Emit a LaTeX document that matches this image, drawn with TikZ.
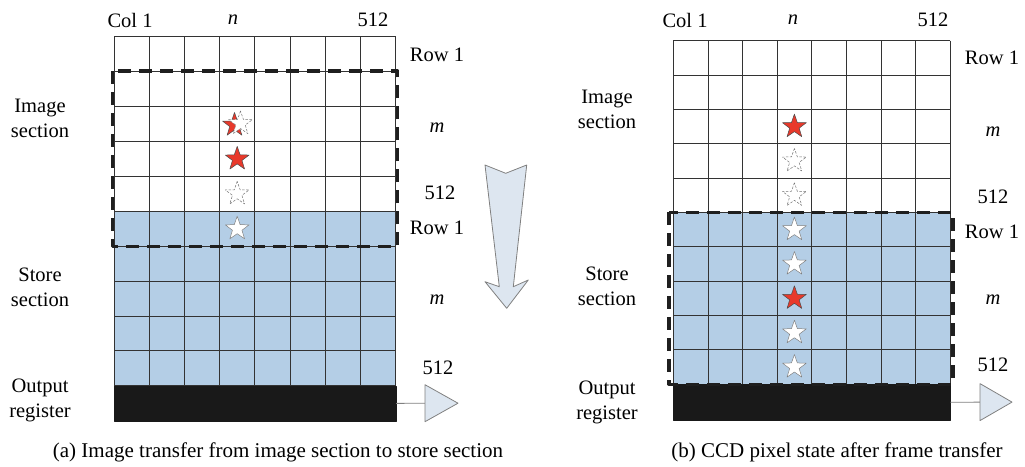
\documentclass[tikz,border=0pt]{standalone}
\usepackage{fontspec}
\setmainfont{Liberation Serif}
\usetikzlibrary{shapes.geometric}
\definecolor{cellblue}{HTML}{B4CEE6}
\definecolor{starred}{HTML}{E8392B}
\definecolor{arrowfill}{HTML}{DDE6F0}
\definecolor{gridline}{HTML}{333333}
\tikzset{
  every picture/.style={line join=round, x=1pt, y=-1pt},
  cell/.style={draw=gridline, line width=0.8pt},
  frame/.style={draw=black!88, line width=3.2pt, dash pattern=on 13pt off 8pt},
  redstar/.style={star, star points=5, star point ratio=2.5, minimum size=25pt, inner sep=0pt, fill=starred, draw=black!70, line width=0.5pt},
  whitestar/.style={redstar, fill=white, draw=gray},
  ghoststar/.style={redstar, fill=white, draw=black!55, dash pattern=on 2.5pt off 1.5pt},
  regbox/.style={fill=black!90, draw=black!90, inner sep=0pt, anchor=north west},
  lbl/.style={font=\fontsize{20.5}{25}\selectfont, inner sep=0pt, align=center},
  captext/.style={font=\fontsize{21}{25}\selectfont, inner sep=0pt},
  arrowshape/.style={fill=arrowfill, draw=gray, line width=0.8pt},
  feed/.style={draw=gray, line width=0.8pt},
}

\begin{document}
\begin{tikzpicture}
\useasboundingbox (0,0) rectangle (1025,466);
\fill[cellblue] (114,211.2) rectangle (395.7,385.7);
\foreach \i in {0,...,8} \draw[cell] ({114+35.2*\i},36.7) -- ({114+35.2*\i},385.7);
\foreach \j in {0,...,10} \draw[cell] (114,{36.7+34.9*\j}) -- (395.7,{36.7+34.9*\j});
\node[regbox, minimum width=281.7pt, minimum height=35pt] (regA) at (114,385.7) {};
\node[redstar] (sA3r) at (234.5,125) {};
\node[ghoststar] (sA3) at (240.5,123.5) {};
\node[redstar] (sA4) at (237.2,158.9) {};
\node[ghoststar] (sA5) at (237.2,193.8) {};
\node[whitestar] (sA6) at (237.2,228.7) {};
\draw[frame] (112.7,71) rectangle (397.7,246.7);
\coordinate (tipA) at (425,403.2);
\draw[feed] (regA.east) -- (tipA);
\draw[arrowshape] (tipA) ++(0,-18.5) -- ++(33,18.5) -- ++(-33,18.5) -- cycle;

\node[lbl] (colA) at (130,20) {Col 1};
\node[lbl] (nA) at (233,20) {\textit{n}};
\node[lbl] (lastA) at (373,20) {512};
\node[lbl] (rowA) at (437,55) {Row 1};
\node[lbl] (mA) at (437,128) {\textit{m}};
\node[lbl] (endA) at (440,193) {512};
\node[lbl] (rowB) at (437,228) {Row 1};
\node[lbl] (mB) at (437,300) {\textit{m}};
\node[lbl] (endB) at (438,368) {512};
\node[lbl] (imgA) at (40,118) {Image\\section};
\node[lbl] (stoA) at (40,287) {Store\\section};
\node[lbl] (outA) at (40,400) {Output\\register};
\node[captext] (capA) at (278,452) {(a) Image transfer from image section to store section};

\draw[arrowshape] (485,165) -- (505.7,173.3) -- (526.7,165) -- (513.3,286.7) -- (528.3,280)
  -- (506.7,308.3) -- (485,281.7) -- (499.3,286.7) -- cycle;

\fill[cellblue] (673.3,212.45) rectangle (950,384.2);
\foreach \i in {0,...,8} \draw[cell] ({673.3+34.6*\i},40.7) -- ({673.3+34.6*\i},384.2);
\foreach \j in {0,...,10} \draw[cell] (673.3,{40.7+34.35*\j}) -- (950,{40.7+34.35*\j});
\node[regbox, minimum width=276.7pt, minimum height=35.8pt] (regB) at (673.3,384.2) {};
\node[redstar] (sB3) at (794.4,126.6) {};
\node[ghoststar] (sB4) at (794.4,160.9) {};
\node[ghoststar] (sB5) at (794.4,195.3) {};
\node[whitestar] (sB6) at (794.4,229.6) {};
\node[whitestar] (sB7) at (794.4,264) {};
\node[redstar] (sB8) at (794.4,298.3) {};
\node[whitestar] (sB9) at (794.4,332.7) {};
\node[whitestar] (sB10) at (794.4,367) {};
\draw[frame] (669,212.4) rectangle (953,384.2);
\coordinate (tipB) at (980,402.1);
\draw[feed] (regB.east) -- (tipB);
\draw[arrowshape] (tipB) ++(0,-18.5) -- ++(32,18.5) -- ++(-32,18.5) -- cycle;

\node[lbl] (colB) at (685,20) {Col 1};
\node[lbl] (nB) at (793,20) {\textit{n}};
\node[lbl] (lastB) at (933,20) {512};
\node[lbl] (rowC) at (992,58) {Row 1};
\node[lbl] (mC) at (993,132) {\textit{m}};
\node[lbl] (endC) at (993,197) {512};
\node[lbl] (rowD) at (992,232) {Row 1};
\node[lbl] (mD) at (993,300) {\textit{m}};
\node[lbl] (endD) at (993,365) {512};
\node[lbl] (imgB) at (607,109) {Image\\section};
\node[lbl] (stoB) at (607,286) {Store\\section};
\node[lbl] (outB) at (607,402) {Output\\register};
\node[captext] (capB) at (837,452) {(b) CCD pixel state after frame transfer};
\end{tikzpicture}
\end{document}
